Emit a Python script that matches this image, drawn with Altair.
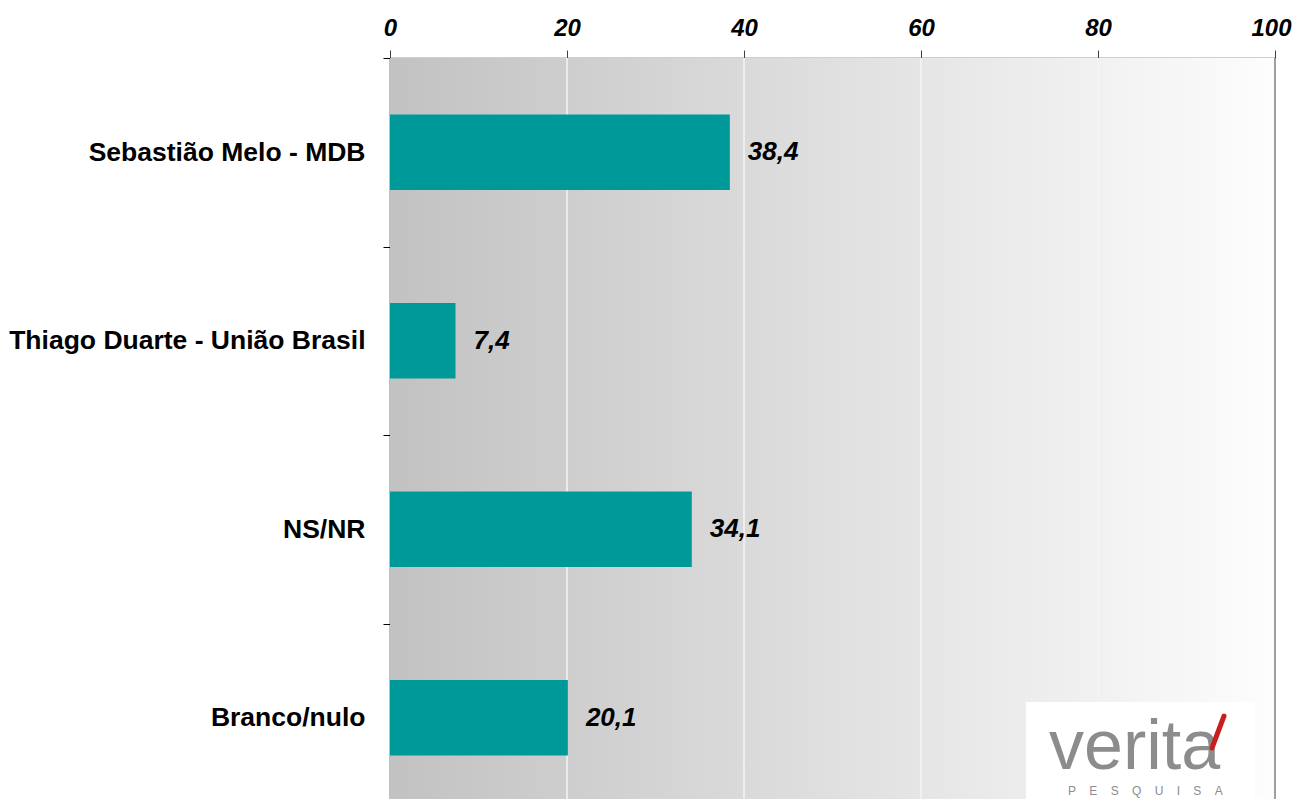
import altair as alt
import pandas as pd

categories = ["Sebastião Melo - MDB", "Thiago Duarte - União Brasil", "NS/NR", "Branco/nulo"]
values = [38.4, 7.4, 34.1, 20.1]
x_ticks = [0, 20, 40, 60, 80, 100]
grid_values = [20, 40, 60, 80]

W, H = 885, 741
FONT = "Liberation Sans"

df = pd.DataFrame({
    "cat": categories,
    "val": values,
    "label": [f"{v:.1f}".replace(".", ",") for v in values],
})
grid_df = pd.DataFrame({"g": grid_values})
border_df = pd.DataFrame({"g": [100]})

x_scale = alt.Scale(domain=[0, 100], nice=False, zero=True)
y_scale = alt.Scale(domain=categories, range=[0, 754], paddingInner=0, paddingOuter=0)

bg = alt.Chart(pd.DataFrame({"a": [0]})).mark_rect(
    color=alt.LinearGradient(
        gradient="linear",
        stops=[alt.GradientStop(color="#c2c2c2", offset=0),
               alt.GradientStop(color="#fdfdfd", offset=1)],
        x1=0, x2=1, y1=0, y2=0,
    )
).encode(x=alt.value(0), x2=alt.value(W), y=alt.value(0), y2=alt.value(H))

grid = alt.Chart(grid_df).mark_rule(color="#f4f4f4", strokeWidth=1.5).encode(
    x=alt.X("g:Q", scale=x_scale)
)

border = alt.Chart(border_df).mark_rule(color="#808080", strokeWidth=1.5).encode(
    x=alt.X("g:Q", scale=x_scale)
)

bars = alt.Chart(df).mark_bar(color="#009999", height=alt.RelativeBandSize(0.4)).encode(
    x=alt.X("val:Q", scale=x_scale,
            axis=alt.Axis(orient="top", values=x_ticks, title=None, grid=False,
                          labelFont=FONT, labelFontSize=24, labelFontWeight="bold",
                          labelFontStyle="italic", labelColor="black",
                          labelBaseline="alphabetic", labelPadding=15,
                          labelOffset={"condition": {"test": "datum.value == 100", "value": -4}, "value": 0},
                          labelFlush=False, tickSize=8, tickColor="#404040",
                          domainColor="#404040", domainWidth=1.5)),
    y=alt.Y("cat:N", scale=y_scale, sort=categories,
            axis=alt.Axis(title=None, tickBand="extent", labelFont=FONT,
                          labelFontSize=26.5, labelFontWeight="bold", labelColor="black",
                          labelPadding=18, tickSize=7, tickColor="black",
                          domainColor="black", domainWidth=1.5, labelLimit=400)),
)

labels = alt.Chart(df).mark_text(
    align="left", baseline="middle", dx=18, font=FONT, fontSize=26,
    fontWeight="bold", fontStyle="italic", color="black"
).encode(
    x=alt.X("val:Q", scale=x_scale),
    y=alt.Y("cat:N", scale=y_scale, sort=categories),
    text="label:N",
)

# logo (decoration)
logo_box = alt.Chart(pd.DataFrame({"a": [0]})).mark_rect(color="white").encode(
    x=alt.value(636), x2=alt.value(865), y=alt.value(644), y2=alt.value(H)
)
logo_word = alt.Chart(pd.DataFrame({"t": ["verita"]})).mark_text(
    align="left", baseline="alphabetic", font=FONT, fontSize=70, color="#8c8c8c"
).encode(x=alt.value(659), y=alt.value(711), text="t:N")
logo_sub = alt.Chart(pd.DataFrame({"t": ["P\u00a0\u00a0\u00a0\u00a0E\u00a0\u00a0\u00a0\u00a0S\u00a0\u00a0\u00a0\u00a0Q\u00a0\u00a0\u00a0\u00a0U\u00a0\u00a0\u00a0\u00a0I\u00a0\u00a0\u00a0\u00a0S\u00a0\u00a0\u00a0\u00a0A"]})).mark_text(
    align="left", baseline="alphabetic", font=FONT, fontSize=12, color="#8c8c8c"
).encode(x=alt.value(678), y=alt.value(737), text="t:N")
logo_accent = alt.Chart(pd.DataFrame({"a": [0]})).mark_rule(
    color="#c81e1e", strokeWidth=5, strokeCap="round"
).encode(x=alt.value(834), x2=alt.value(822), y=alt.value(658), y2=alt.value(690))

chart = alt.layer(
    bg, grid, border, bars, labels, logo_box, logo_word, logo_sub, logo_accent
).properties(
    width=W, height=H,
    autosize=alt.AutoSizeParams(type="none"),
    padding={"left": 382, "top": 50, "right": 19, "bottom": 0},
).configure_view(stroke=None)

chart.save("out.html", embed_options={"renderer": "svg", "actions": False})
